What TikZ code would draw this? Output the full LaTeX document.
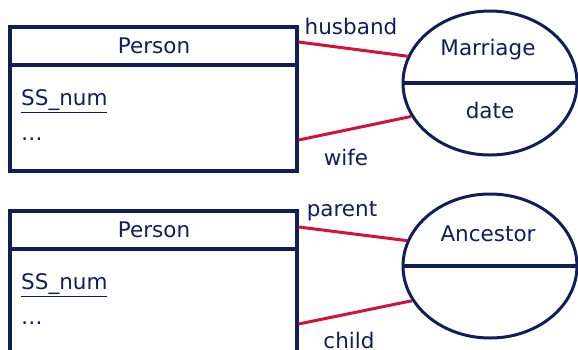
\documentclass[tikz,border=0pt]{standalone}
\usepackage{fontspec}
\setmainfont{DejaVu Sans}
\usetikzlibrary{shapes.geometric}
\definecolor{navy}{RGB}{16,30,90}
\definecolor{linkred}{RGB}{210,18,58}
\newcommand{\keyattr}[1]{\underline{#1}}
\begin{document}
\begin{tikzpicture}[x=1pt,y=-1pt,
  entity/.style={draw=navy,line width=3.2pt,rectangle,minimum width=287pt,inner sep=0pt},
  rel/.style={draw=navy,line width=3pt,ellipse,minimum width=174pt,minimum height=144pt,inner sep=0pt},
  divider/.style={draw=navy,line width=3.2pt},
  link/.style={draw=linkred,line width=3pt},
  lbl/.style={text=navy,font=\fontsize{21.5}{25}\selectfont,inner sep=0pt},
  attr/.style={lbl,anchor=west}]
\useasboundingbox (0,0) rectangle (578,349);
\clip (0,0) rectangle (578,349);

% first pair: Person -- Marriage
\node[entity,minimum height=144pt] (p1) at (153.5,99) {};
\draw[divider] (p1.west |- 0,65) -- (p1.east |- 0,65);
\node[lbl] (p1t) at (154,46) {Person};
\node[attr] (p1k) at (21,101) {\keyattr{SS\_num}};
\node[attr] (p1d) at (21,139) {\ldots};

\node[rel] (m) at (490,83) {};
\draw[divider] (m.west) -- (m.east);
\node[lbl] (mt) at (488,50) {Marriage};
\node[lbl] (md) at (490,110) {date};

\draw[link] (p1.east |- 0,42) -- (m.162);
\draw[link] (p1.east |- 0,140) -- (m.203.6);
\node[lbl] (hb) at (351,26) {husband};
\node[lbl] (wf) at (346,157) {wife};

% second pair: Person -- Ancestor
\node[entity,minimum height=160pt] (p2) at (153.5,291) {};
\draw[divider] (p2.west |- 0,249) -- (p2.east |- 0,249);
\node[lbl] (p2t) at (154,230) {Person};
\node[attr] (p2k) at (21,285) {\keyattr{SS\_num}};
\node[attr] (p2d) at (21,323) {\ldots};

\node[rel] (a) at (490,266) {};
\draw[divider] (a.west) -- (a.east);
\node[lbl] (at) at (488,234) {Ancestor};

\draw[link] (p2.east |- 0,227) -- (a.163);
\draw[link] (p2.east |- 0,324) -- (a.204);
\node[lbl] (pa) at (342,211) {parent};
\node[lbl] (ch) at (349,340) {child};
\end{tikzpicture}
\end{document}
